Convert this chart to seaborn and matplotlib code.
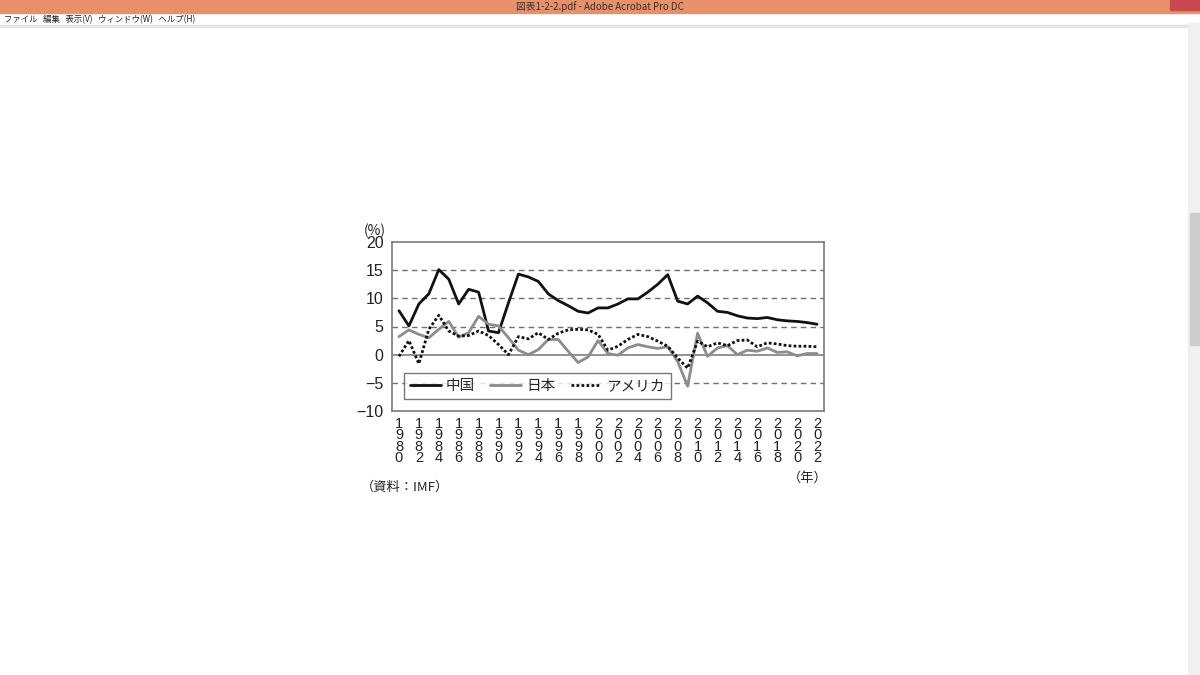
import numpy as np
import pandas as pd
import seaborn as sns
import matplotlib.pyplot as plt
from matplotlib.patches import Rectangle

years = list(range(1980, 2023))

# 実質GDP成長率 (%)
china = [7.8, 5.1, 9.0, 10.8, 15.1, 13.4, 9.0, 11.6, 11.1, 4.2,
         3.9, 9.2, 14.3, 13.8, 13.0, 10.8, 9.6, 8.7, 7.7, 7.4,
         8.3, 8.3, 9.0, 9.9, 9.9, 11.1, 12.5, 14.2, 9.5, 9.0,
         10.4, 9.2, 7.7, 7.5, 6.9, 6.5, 6.4, 6.6, 6.2, 6.0,
         5.9, 5.7, 5.4]
japan = [3.2, 4.4, 3.6, 3.0, 4.5, 5.9, 3.1, 3.9, 6.8, 5.4,
         5.1, 3.0, 0.8, 0.0, 0.9, 2.7, 2.7, 0.6, -1.4, -0.4,
         2.5, 0.2, -0.1, 1.2, 1.8, 1.4, 1.1, 1.4, -1.2, -5.6,
         3.8, -0.3, 1.2, 1.6, 0.0, 0.8, 0.6, 1.2, 0.4, 0.5,
         -0.2, 0.2, 0.2]
usa = [-0.3, 2.5, -1.6, 4.5, 7.0, 4.2, 3.3, 3.4, 4.2, 3.4,
       1.8, 0.0, 3.2, 2.8, 3.9, 2.7, 3.8, 4.4, 4.5, 4.4,
       3.6, 0.8, 1.5, 2.7, 3.6, 3.2, 2.4, 1.5, -0.6, -2.4,
       2.4, 1.4, 2.1, 1.6, 2.5, 2.6, 1.4, 2.1, 1.9, 1.6,
       1.5, 1.5, 1.4]

labels = ["中国", "日本", "アメリカ"]
yticks = [20, 15, 10, 5, 0, -5, -10]
xticks = list(range(1980, 2023, 2))

df = pd.DataFrame({"year": years, labels[0]: china, labels[1]: japan, labels[2]: usa})
df = df.melt(id_vars="year", var_name="country", value_name="rate")

sns.set_style("white")
plt.rcParams["font.family"] = ["Noto Sans CJK JP", "DejaVu Sans"]
num_font = ["Liberation Sans", "DejaVu Sans"]

fig = plt.figure(figsize=(12, 6.75), dpi=100)

# window chrome of the screenshot
fig.patches.append(Rectangle((0, 1 - 13 / 675), 1, 13 / 675, transform=fig.transFigure,
                             color="#e8906a", zorder=0))
fig.patches.append(Rectangle((1170 / 1200, 1 - 10 / 675), 30 / 1200, 10 / 675,
                             transform=fig.transFigure, color="#c9484f", zorder=1))
fig.patches.append(Rectangle((0, 1 - 27 / 675), 1, 1.5 / 675, transform=fig.transFigure,
                             color="#e6e6e6", zorder=0))
fig.patches.append(Rectangle((1188 / 1200, 0), 12 / 1200, 1 - 23 / 675,
                             transform=fig.transFigure, color="#f0f0f0", zorder=0))
fig.patches.append(Rectangle((1190 / 1200, 1 - 345 / 675), 9 / 1200, 132 / 675,
                             transform=fig.transFigure, color="#cdcdcd", zorder=1))
fig.text(0.5, 1 - 7 / 675, "図表1-2-2.pdf - Adobe Acrobat Pro DC", ha="center", va="center",
         fontsize=7, color="#333333")
fig.text(4 / 1200, 1 - 19.5 / 675, "ファイル   編集   表示(V)   ウィンドウ(W)   ヘルプ(H)",
         ha="left", va="center", fontsize=6, color="#222222")

ax = fig.add_axes([392 / 1200, 1 - 411 / 675, 432 / 1200, 169 / 675])

sns.lineplot(data=df, x="year", y="rate", hue="country", style="country",
             palette={"中国": "#111111", "日本": "#8c8c8c", "アメリカ": "#111111"},
             dashes={"中国": "", "日本": "", "アメリカ": (1, 0.8)},
             linewidth=2, ax=ax, zorder=3)

for v in [15, 10, 5, -5]:
    ax.axhline(v, color="#707070", lw=1, ls=(0, (4, 3)), zorder=1)
ax.axhline(0, color="#8a8a8a", lw=1.3, zorder=2)

ax.set_xlim(1979.3, 2022.7)
ax.set_ylim(-10, 20)
ax.set_yticks(yticks)
ax.set_yticklabels([str(v).replace("-", "\u2212") for v in yticks], fontsize=11.5,
                   family=num_font)
ax.set_xticks(xticks)
ax.set_xticklabels(["\n".join(str(y)) for y in xticks], fontsize=10.5, linespacing=0.78,
                   va="top", family=num_font)
ax.tick_params(axis="y", length=0, pad=6, colors="#222222")
ax.tick_params(axis="x", direction="in", length=6, width=1, color="#666666",
               pad=4, labelcolor="#222222")
ax.set_xlabel("")
ax.set_ylabel("")
for s in ax.spines.values():
    s.set_color("#7a7a7a")
    s.set_linewidth(1.2)

leg = ax.legend(loc="lower left", bbox_to_anchor=(0.028, 0.071),
                ncol=3, frameon=True, fancybox=False,
                fontsize=10.5, handlelength=2.1, borderaxespad=0, borderpad=0.4,
                columnspacing=1.05, handletextpad=0.35)
leg.get_frame().set_edgecolor("#555555")
leg.get_frame().set_linewidth(1)

fig.text(375 / 1200, 1 - 231 / 675, "(%)", ha="center", va="center", fontsize=10,
         color="#222222")
fig.text(361 / 1200, 1 - 487 / 675, "（資料：IMF）", ha="left", va="center", fontsize=9.5,
         color="#222222")
fig.text(828 / 1200, 1 - 478 / 675, "（年）", ha="right", va="center", fontsize=9.5,
         color="#222222")

fig.savefig("out.png", dpi=100)
